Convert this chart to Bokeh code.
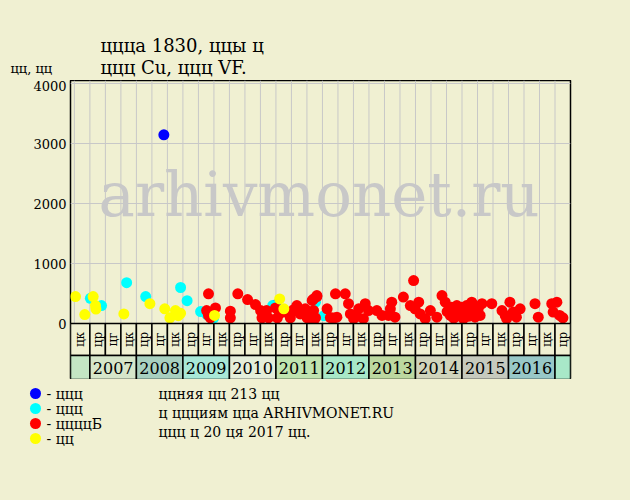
import math
from bokeh.plotting import figure
from bokeh.models import Range1d, FixedTicker
from bokeh.core.properties import value
from bokeh.embed import file_html
from bokeh.resources import INLINE

BG = "#F0F0D2"
FONT = "DejaVu Serif"
GRID = "#C8C8C8"

# ---------------- data ----------------
title_lines = ["ццца 1830, ццы ц", "ццц Cu, ццц VF."]
y_label = "цц, цц"
watermark = "arhivmonet.ru"

y_ticks = [0, 1000, 2000, 3000, 4000]
x_start, x_end = 2006.583, 2017.333

years = [2007, 2008, 2009, 2010, 2011, 2012, 2013, 2014, 2015, 2016]
period_names = ["цр", "цг", "цк"]          # three 4-month periods per year
year_colors = ["#C4E6C4", "#D6E6CA", "#A8D0C0", "#A8E8D8", "#E4EEDA", "#C0E4B0",
               "#A8E8C8", "#BCD8A0", "#D0D4BC", "#C6CABE", "#98C8C8", "#A8E8C8"]

blue_x = [2008.59, 2010.99]
blue_y = [3145, 310]

cyan_x = [2007.01, 2007.25, 2007.79, 2008.20, 2008.91, 2008.95, 2009.09, 2009.38,
          2009.52, 2009.66, 2010.93, 2011.85, 2012.03]
cyan_y = [420, 300, 680, 450, 160, 600, 380, 200, 145, 90, 300, 355, 130]

red_x = [2009.55, 2009.51, 2009.70, 2009.59, 2009.55, 2010.02, 2010.02, 2010.18, 2010.39,
         2010.56, 2010.67, 2010.70, 2010.80, 2010.84, 2010.99, 2011.03, 2011.08, 2011.20,
         2011.31, 2011.38, 2011.45, 2011.52, 2011.63, 2011.67, 2011.78, 2011.88, 2011.81,
         2011.85, 2011.74, 2011.81, 2011.88, 2011.74, 2011.81, 2012.10, 2012.17, 2012.28,
         2012.31, 2012.24, 2012.49, 2012.56, 2012.60, 2012.67, 2012.78, 2012.92, 2012.99,
         2012.88, 2012.74, 2013.17, 2013.28, 2013.42, 2013.49, 2013.46, 2013.56, 2013.74,
         2013.96, 2013.89, 2014.07, 2013.99, 2014.10, 2014.21, 2014.32, 2014.46, 2014.57,
         2014.64, 2014.78, 2014.75, 2014.89, 2014.85, 2014.99, 2015.06, 2015.03, 2015.21,
         2015.24, 2015.28, 2015.35, 2015.43, 2015.39, 2015.64, 2015.86, 2015.93, 2015.96,
         2016.03, 2016.10, 2016.17, 2016.25, 2016.57, 2016.64, 2016.93, 2017.04, 2016.96,
         2017.10, 2017.17, 2014.68, 2014.92, 2015.10, 2015.14, 2014.82]
red_y = [495, 215, 260, 95, 135, 205, 95, 495, 400,
         315, 215, 95, 215, 95, 260, 95, 170, 190,
         95, 230, 300, 160, 245, 95, 385, 450, 215,
         95, 130, 410, 465, 190, 50, 245, 100, 495,
         105, 90, 495, 330, 160, 80, 245, 330, 215,
         80, 120, 215, 135, 135, 355, 245, 105, 440,
         715, 300, 355, 245, 160, 80, 215, 105, 465,
         355, 270, 135, 300, 105, 270, 160, 80, 355,
         215, 105, 245, 330, 135, 330, 215, 135, 80,
         355, 190, 105, 245, 330, 105, 330, 355, 190,
         135, 95, 200, 180, 300, 120, 90]

yellow_x = [2006.69, 2006.89, 2007.07, 2007.12, 2007.13, 2007.73, 2008.29, 2008.61,
            2008.72, 2008.84, 2008.95, 2008.90, 2009.68, 2011.08, 2011.17]
yellow_y = [450, 150, 450, 300, 240, 160, 330, 245, 95, 215, 170, 130, 135, 410, 245]

legend_names = ["- ццц", "- ццц", "- ццццБ", "- цц"]
legend_colors = ["#0000FF", "#00FFFF", "#FF0000", "#FFFF00"]
notes = ["ццняя цц 213 цц", "ц ццциям цца ARHIVMONET.RU", "ццц ц 20 ця 2017 цц."]

# ---------------- helpers ----------------
W = 614


def style(f):
    f.background_fill_color = BG
    f.border_fill_color = BG
    f.outline_line_color = None
    f.grid.visible = False


# ---------------- header ----------------
hdr = figure(width=W, height=72, x_range=Range1d(0, W), y_range=Range1d(72, 0),
             x_axis_location=None, y_axis_location=None, min_border=0,
             output_backend="svg", toolbar_location=None)
style(hdr)
hdr.text(x=[92, 92], y=[37, 59], text=title_lines, text_font=value(FONT),
         text_font_size="18px", text_baseline="middle", text_color="black")
hdr.text(x=[2], y=[60], text=[y_label], text_font=value(FONT),
         text_font_size="13px", text_baseline="middle", text_color="black")

# ---------------- main scatter + period table ----------------
ROW1 = -533     # bottom of the period row (table lies below 0)
ROW2 = -933     # bottom of the year row
p = figure(frame_width=500, frame_height=299, x_range=Range1d(x_start, x_end),
           y_range=Range1d(ROW2, 4050), min_border_left=62, min_border_right=52,
           min_border_top=0, min_border_bottom=0, x_axis_location=None,
           output_backend="svg", toolbar_location=None)
p.background_fill_color = BG
p.border_fill_color = BG
p.outline_line_color = "black"
p.outline_line_width = 1.5
p.grid.visible = False

ax = p.yaxis[0]
ax.ticker = FixedTicker(ticks=y_ticks)
ax.major_label_text_font = FONT
ax.major_label_text_font_size = "13px"
ax.major_label_text_color = "black"
ax.major_tick_out = 0
ax.major_tick_in = 0
ax.minor_tick_out = 0
ax.minor_tick_in = 0
ax.axis_line_color = None
ax.major_label_standoff = 4

# grid (plot area only)
x_ticks = [years[0] - 1 + (k + 2) / 3 for k in range(3 * len(years) + 2)]
p.segment(x0=x_ticks, y0=0, x1=x_ticks, y1=4050, line_color=GRID, line_width=1)
p.segment(x0=x_start, y0=y_ticks[1:], x1=x_end, y1=y_ticks[1:], line_color=GRID,
          line_width=1)

p.text(x=[(x_start + x_end) / 2 - 0.03], y=[2150], text=[watermark], text_font=value(FONT),
       text_font_size="61px", text_color="#C8C8C8", text_align="center",
       text_baseline="middle")

for xs, ys, c in [(blue_x, blue_y, "#0000FF"), (cyan_x, cyan_y, "#00FFFF"),
                  (red_x, red_y, "#FF0000"), (yellow_x, yellow_y, "#FFFF00")]:
    p.scatter(xs, ys, size=11, fill_color=c, line_color=None)

# period cells
p_left, p_right, p_lab = [x_start], [years[0]], [period_names[2]]
for yr in years:
    for i, nm in enumerate(period_names):
        p_left.append(yr + i / 3); p_right.append(yr + (i + 1) / 3); p_lab.append(nm)
p_left.append(years[-1] + 1); p_right.append(x_end); p_lab.append(period_names[0])
p.quad(left=p_left, right=p_right, bottom=ROW1, top=0, fill_color=BG,
       line_color="black", line_width=1.5)
p.text(x=[(a + b) / 2 for a, b in zip(p_left, p_right)], y=ROW1 / 2, text=p_lab,
       angle=math.pi / 2, text_font=value(FONT), text_font_size="12px",
       text_align="center", text_baseline="middle", text_color="black")

# year cells
y_left = [x_start] + years + [years[-1] + 1]
y_right = [years[0]] + [yr + 1 for yr in years] + [x_end]
y_lab = [""] + [str(yr) for yr in years] + [""]
p.quad(left=y_left, right=y_right, bottom=ROW2, top=ROW1, fill_color=year_colors,
       line_color="black", line_width=1.5)
p.text(x=[(a + b) / 2 for a, b in zip(y_left, y_right)], y=(ROW1 + ROW2) / 2 - 15,
       text=y_lab, text_font=value(FONT), text_font_size="16px", text_align="center",
       text_baseline="middle", text_color="black")

# ---------------- legend & notes ----------------
ft = figure(width=W, height=113, x_range=Range1d(0, W), y_range=Range1d(113, 0),
            x_axis_location=None, y_axis_location=None, min_border=0,
            output_backend="svg", toolbar_location=None)
style(ft)
leg_y = [14 + 15 * i for i in range(len(legend_names))]
ft.scatter(x=[27] * len(legend_names), y=leg_y, size=11, fill_color=legend_colors,
           line_color=None)
ft.text(x=[38] * len(legend_names), y=leg_y, text=legend_names, text_font=value(FONT),
        text_font_size="14px", text_baseline="middle", text_color="black")
ft.text(x=[150] * len(notes), y=[14 + 19 * i for i in range(len(notes))], text=notes,
        text_font=value(FONT), text_font_size="14px", text_baseline="middle",
        text_color="black")

html = file_html([hdr, p, ft], INLINE)
css = ("<style>html { margin: 0 !important; padding: 0 !important; background: %s; } "
       "body { margin: 0 !important; padding: 8px !important; background: %s; "
       "box-sizing: border-box; }</style></head>" % (BG, BG))
html = html.replace("</head>", css, 1)
open("out.html", "w").write(html)
